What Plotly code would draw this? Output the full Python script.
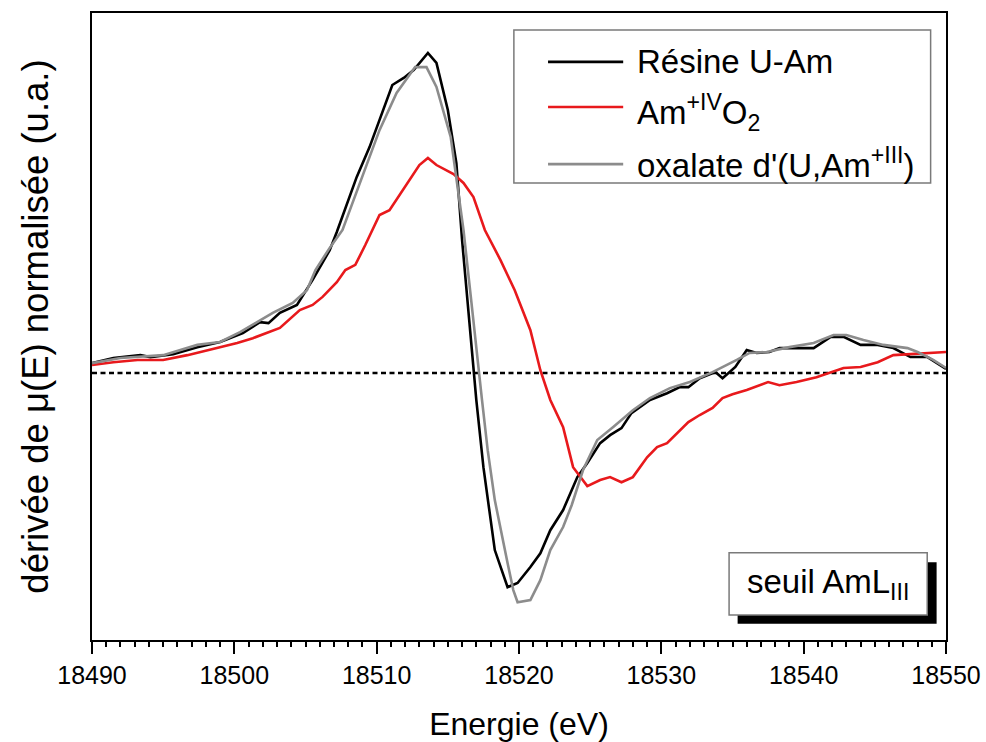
import plotly.graph_objects as go

# Dérivée du spectre XANES normalisé au seuil L3 de l'américium

# Résine U-Am
energy_resine = [18490.0, 18491.5, 18493.4, 18494.1, 18495.7, 18497.4, 18499.0, 18500.6,
                 18501.8, 18502.4, 18503.2, 18504.4, 18505.5, 18506.0, 18506.7, 18507.2,
                 18508.6, 18509.5, 18510.2, 18511.1, 18511.9, 18512.6, 18513.6, 18514.2,
                 18515.0, 18515.6, 18516.0, 18516.6, 18517.0, 18517.5, 18518.0, 18518.3,
                 18519.2, 18519.9, 18520.8, 18521.5, 18522.2, 18523.1, 18524.1, 18524.8,
                 18525.7, 18526.4, 18527.2, 18527.9, 18529.2, 18530.4, 18531.3, 18531.9,
                 18532.7, 18533.8, 18534.3, 18535.2, 18536.0, 18536.7, 18537.6, 18538.3,
                 18540.7, 18541.9, 18542.8, 18544.0, 18545.2, 18546.3, 18547.5, 18548.7,
                 18550.0]
deriv_resine = [0.031, 0.047, 0.056, 0.050, 0.059, 0.081, 0.097, 0.125,
                0.159, 0.156, 0.188, 0.213, 0.291, 0.328, 0.384, 0.441,
                0.613, 0.706, 0.791, 0.900, 0.922, 0.947, 1.000, 0.969,
                0.822, 0.656, 0.416, 0.103, -0.084, -0.294, -0.459, -0.553,
                -0.669, -0.656, -0.606, -0.563, -0.491, -0.428, -0.325, -0.281,
                -0.219, -0.194, -0.172, -0.125, -0.084, -0.063, -0.044, -0.044,
                -0.016, 0.003, -0.016, 0.019, 0.072, 0.063, 0.066, 0.078,
                0.078, 0.113, 0.113, 0.088, 0.088, 0.078, 0.050, 0.050,
                0.013]

# Am(+IV)O2
energy_amo2 = [18490.0, 18491.5, 18493.2, 18495.0, 18496.7, 18499.0, 18500.2, 18501.3,
               18503.2, 18504.6, 18505.5, 18506.2, 18507.2, 18507.8, 18508.5, 18509.2,
               18510.2, 18510.9, 18511.6, 18512.3, 18513.0, 18513.6, 18514.2, 18515.4,
               18516.1, 18516.8, 18517.3, 18517.6, 18518.7, 18519.7, 18520.8, 18521.5,
               18522.2, 18523.1, 18523.8, 18524.8, 18525.7, 18526.4, 18527.2, 18528.0,
               18529.0, 18529.7, 18530.4, 18531.1, 18531.9, 18532.7, 18533.6, 18534.3,
               18535.0, 18536.0, 18536.7, 18537.5, 18538.3, 18539.5, 18540.9, 18542.1,
               18542.8, 18544.0, 18545.2, 18546.3, 18547.3, 18548.7, 18550.0]
deriv_amo2 = [0.025, 0.034, 0.041, 0.041, 0.056, 0.081, 0.094, 0.109,
              0.141, 0.197, 0.213, 0.238, 0.284, 0.322, 0.338, 0.400,
              0.494, 0.509, 0.556, 0.603, 0.650, 0.672, 0.650, 0.622,
              0.594, 0.550, 0.488, 0.447, 0.353, 0.259, 0.134, 0.009,
              -0.084, -0.169, -0.294, -0.353, -0.334, -0.325, -0.341, -0.325,
              -0.263, -0.231, -0.219, -0.188, -0.153, -0.131, -0.109, -0.078,
              -0.066, -0.053, -0.041, -0.028, -0.038, -0.028, -0.013, 0.006,
              0.016, 0.019, 0.034, 0.056, 0.059, 0.063, 0.066]

# Oxalate d'(U,Am+III)
energy_oxalate = [18490.0, 18492.0, 18495.0, 18497.4, 18499.0, 18500.4, 18501.6, 18502.7,
                  18504.1, 18505.1, 18505.7, 18506.7, 18507.6, 18508.8, 18510.2, 18511.4,
                  18512.7, 18513.5, 18514.2, 18515.2, 18515.7, 18516.1, 18516.6, 18517.0,
                  18517.4, 18517.8, 18518.3, 18519.2, 18519.6, 18519.9, 18520.8, 18521.5,
                  18522.2, 18523.1, 18523.7, 18524.5, 18525.5, 18526.6, 18528.0, 18529.2,
                  18530.6, 18532.0, 18533.6, 18535.3, 18536.2, 18537.4, 18539.0, 18540.7,
                  18542.1, 18543.0, 18544.2, 18545.6, 18547.3, 18548.0, 18549.1, 18550.0]
deriv_oxalate = [0.031, 0.047, 0.056, 0.088, 0.097, 0.128, 0.159, 0.188,
                 0.219, 0.259, 0.322, 0.391, 0.447, 0.588, 0.759, 0.875,
                 0.956, 0.956, 0.894, 0.738, 0.572, 0.447, 0.244, 0.072,
                 -0.084, -0.241, -0.397, -0.594, -0.678, -0.716, -0.709, -0.647,
                 -0.553, -0.481, -0.413, -0.303, -0.209, -0.169, -0.116, -0.078,
                 -0.047, -0.028, 0.003, 0.041, 0.063, 0.066, 0.081, 0.094,
                 0.119, 0.119, 0.103, 0.088, 0.078, 0.066, 0.041, 0.016]

series_names = ["Résine U-Am", "Am<sup>+IV</sup>O<sub>2</sub>", "oxalate d'(U,Am<sup>+III</sup>)"]
series_colors = ["#000000", "#e8191c", "#8c8c8c"]

x_ticks = [18490, 18500, 18510, 18520, 18530, 18540, 18550]
x_range = [18490, 18550]
y_range = [-0.834, 1.125]

FONT = "Liberation Sans, Arial, sans-serif"

fig = go.Figure()

# tracés : noir, rouge puis gris par-dessus
for xs, ys, name, color in [
    (energy_resine, deriv_resine, series_names[0], series_colors[0]),
    (energy_amo2, deriv_amo2, series_names[1], series_colors[1]),
    (energy_oxalate, deriv_oxalate, series_names[2], series_colors[2]),
]:
    fig.add_trace(go.Scatter(x=xs, y=ys, mode="lines", name=name,
                             line=dict(color=color, width=2.6),
                             showlegend=False, hoverinfo="skip"))

shapes = []
# ligne de zéro en pointillés
shapes.append(dict(type="line", xref="paper", yref="y", x0=0, x1=1, y0=0, y1=0,
                   line=dict(color="black", width=2.4, dash="5px,3.5px"), layer="below"))

# légende dessinée à la main
shapes.append(dict(type="rect", xref="paper", yref="paper", x0=0.494, x1=0.982,
                   y0=0.729, y1=0.973, line=dict(color="#7a7a7a", width=1.5),
                   fillcolor="white"))
legend_y = [0.922, 0.850, 0.759]
text_y = [0.922, 0.842, 0.761]
annotations = []
for ly, ty, name, color in zip(legend_y, text_y, series_names, series_colors):
    shapes.append(dict(type="line", xref="paper", yref="paper", x0=0.534, x1=0.622,
                       y0=ly, y1=ly, line=dict(color=color, width=2.6)))
    annotations.append(dict(xref="paper", yref="paper", x=0.636, y=ty, text=name,
                            showarrow=False, xanchor="left", yanchor="middle",
                            font=dict(family=FONT, size=33, color="black")))

# encadré "seuil AmL_III" avec ombre portée
shapes.append(dict(type="rect", xref="paper", yref="paper", x0=0.756, x1=0.989,
                   y0=0.026, y1=0.124, line=dict(color="black", width=0),
                   fillcolor="black"))
shapes.append(dict(type="rect", xref="paper", yref="paper", x0=0.746, x1=0.978,
                   y0=0.040, y1=0.139, line=dict(color="#7a7a7a", width=1.5),
                   fillcolor="white"))
annotations.append(dict(xref="paper", yref="paper", x=0.862, y=0.089,
                        text="seuil AmL<sub>III</sub>", showarrow=False,
                        xanchor="center", yanchor="middle",
                        font=dict(family=FONT, size=33, color="black")))

fig.update_layout(
    width=986, height=742,
    margin=dict(l=92, r=40, t=13, b=102),
    paper_bgcolor="white", plot_bgcolor="white",
    shapes=shapes, annotations=annotations,
    font=dict(family=FONT, color="black"),
    xaxis=dict(range=x_range, tickvals=x_ticks, ticktext=[str(t) for t in x_ticks],
               ticks="outside", ticklen=12, tickwidth=2, tickcolor="black",
               minor=dict(dtick=1, ticks="outside", ticklen=5, tickwidth=1.5,
                          tickcolor="black"),
               showline=True, linecolor="black", linewidth=2, mirror=True,
               showgrid=False, zeroline=False, automargin=False,
               tickfont=dict(family=FONT, size=25, color="black"),
               title=dict(text="Energie (eV)", standoff=25,
                          font=dict(family=FONT, size=32, color="black"))),
    yaxis=dict(range=y_range, showticklabels=False, ticks="",
               showline=True, linecolor="black", linewidth=2, mirror=True,
               showgrid=False, zeroline=False, automargin=False,
               title=dict(text="dérivée de μ(E) normalisée (u.a.)", standoff=30,
                          font=dict(family=FONT, size=36.5, color="black"))),
)

fig.write_html("out.html")
